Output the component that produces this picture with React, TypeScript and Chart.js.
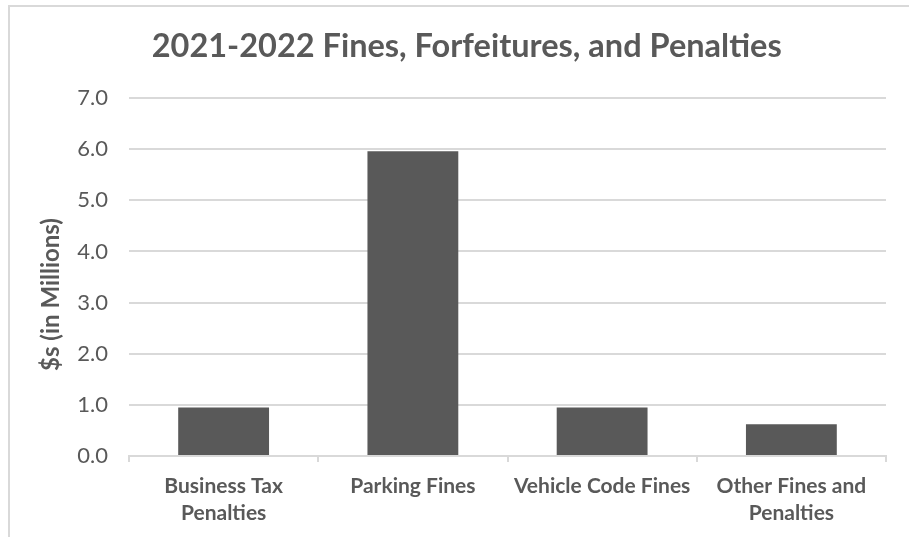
import React, { useEffect, useRef } from "react";
import { Chart, registerables } from "chart.js";

Chart.register(...registerables);

const chartTitle = "2021-2022 Fines, Forfeitures, and Penalties";
const yAxisTitle = "$s (in Millions)";
const categories: (string | string[])[] = [
  ["Business Tax", "Penalties"],
  "Parking Fines",
  "Vehicle Code Fines",
  ["Other Fines and", "Penalties"],
];
const values = [0.95, 5.96, 0.95, 0.62];
const yMin = 0;
const yMax = 7;
const yStep = 1;

const FONT = "Lato, 'Noto Sans', sans-serif";
const TEXT = "#595959";
const GRID = "#d9d9d9";
const BAR = "#595959";

const framePlugin = {
  id: "frame",
  afterDraw(chart: any) {
    const ctx = chart.ctx;
    ctx.save();
    ctx.strokeStyle = GRID;
    ctx.lineWidth = 2;
    ctx.beginPath();
    ctx.moveTo(9, chart.height);
    ctx.lineTo(9, 6);
    ctx.lineTo(chart.width, 6);
    ctx.stroke();
    ctx.restore();
  },
};

export default function App() {
  const ref = useRef<HTMLCanvasElement>(null);
  useEffect(() => {
    if (!ref.current) return;
    const chart = new Chart(ref.current, {
      type: "bar",
      data: {
        labels: categories,
        datasets: [
          {
            data: values,
            backgroundColor: BAR,
            borderWidth: 0,
            categoryPercentage: 1,
            barPercentage: 0.48,
          },
        ],
      },
      options: {
        animation: false,
        responsive: false,
        devicePixelRatio: 1,
        layout: { padding: { left: 0, right: 23, top: 0, bottom: 0 } },
        plugins: {
          legend: { display: false },
          tooltip: { enabled: false },
          title: {
            display: true,
            text: "      " + chartTitle,
            color: TEXT,
            font: { family: FONT, size: 32.5, weight: "bold", lineHeight: 1.2 },
            padding: { top: 27.5, bottom: 31.5 },
          },
        },
        scales: {
          x: {
            offset: true,
            grid: {
              display: true,
              drawOnChartArea: false,
              drawTicks: true,
              tickLength: 6,
              color: GRID,
              lineWidth: 2,
            },
            border: { display: true, color: GRID, width: 2 },
            ticks: {
              color: TEXT,
              padding: 10.5,
              maxRotation: 0,
              autoSkip: false,
              font: { family: FONT, size: 21, weight: "bold", lineHeight: 27 / 21 },
            },
            afterFit(scale: any) {
              scale.height = 81;
              scale.paddingLeft = 0;
              scale.paddingRight = 0;
            },
          },
          y: {
            min: yMin,
            max: yMax,
            grid: { color: GRID, lineWidth: 2, drawTicks: false },
            border: { display: false },
            ticks: {
              stepSize: yStep,
              color: TEXT,
              padding: 21,
              font: { family: FONT, size: 22 },
              callback: (v: any) => Number(v).toFixed(1),
            },
            title: {
              display: true,
              text: yAxisTitle + "      ",
              color: TEXT,
              font: { family: FONT, size: 24, weight: "bold", lineHeight: 1.2 },
              padding: { top: 37, bottom: 0 },
            },
            afterFit(scale: any) {
              scale.width = 129;
            },
          },
        },
      },
      plugins: [framePlugin],
    });
    return () => chart.destroy();
  }, []);
  return (
    <div style={{ position: "fixed", left: 0, top: 0, width: 909, height: 537, background: "#fff" }}>
      <canvas ref={ref} width={909} height={537} style={{ display: "block" }} />
    </div>
  );
}
